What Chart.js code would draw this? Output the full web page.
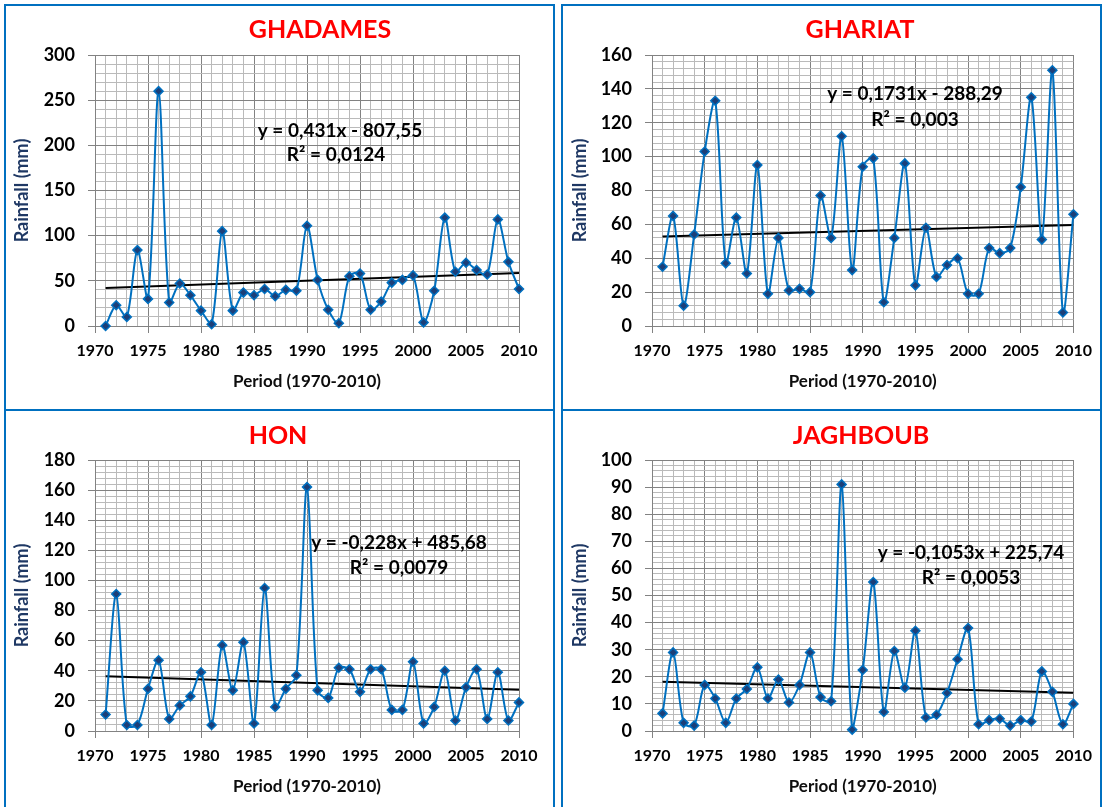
<!DOCTYPE html>
<html>
<head>
<meta charset="utf-8">
<script src="https://cdn.jsdelivr.net/npm/chart.js@4.4.0/dist/chart.umd.min.js"></script>
<style>
html,body{margin:0;padding:0;background:#fff;width:1103px;height:807px;overflow:hidden;}
.panel{position:absolute;border:2px solid #0070c0;box-sizing:border-box;background:#fff;}
.panel canvas{position:absolute;left:0;top:0;}
</style>
</head>
<body>
<div class="panel" style="left:4px;top:4px;width:551px;height:407px;"><canvas id="c0" width="547" height="403"></canvas></div>
<div class="panel" style="left:561px;top:4px;width:541px;height:407px;"><canvas id="c1" width="537" height="403"></canvas></div>
<div class="panel" style="left:4px;top:409px;width:551px;height:420px;"><canvas id="c2" width="547" height="396"></canvas></div>
<div class="panel" style="left:561px;top:409px;width:541px;height:420px;"><canvas id="c3" width="537" height="396"></canvas></div>
<script>
// ---------- DATA ----------
const years = [1971,1972,1973,1974,1975,1976,1977,1978,1979,1980,
               1981,1982,1983,1984,1985,1986,1987,1988,1989,1990,
               1991,1992,1993,1994,1995,1996,1997,1998,1999,2000,
               2001,2002,2003,2004,2005,2006,2007,2008,2009,2010];
const stations = ["GHADAMES", "GHARIAT", "HON", "JAGHBOUB"];
const ghadames = [0,23,10,84,30,260,26,47,34,17,
                  2,105,17,37,34,41,33,40,39,111,
                  51,18,3,55,58,18,27,48,51,56,
                  4,39,120,60,70,62,57,118,71,41];
const ghariat  = [35,65,12,54,103,133,37,64,31,95,
                  19,52,21,22,20,77,52,112,33,94,
                  99,14,52,96,24,58,29,36,40,19,
                  19,46,43,46,82,135,51,151,8,66];
const hon      = [11,91,4,4,28,47,8,17,23,39,
                  4,57,27,59,5,95,16,28,37,162,
                  27,22,42,41,26,41,41,14,14,46,
                  5,16,40,7,29,41,8,39,7,19];
const jaghboub = [6.5,29,3,2,17,12,3,12,15.5,23.5,
                  12,19,10.5,17,29,12.5,11,91,0.5,22.5,
                  55,7,29.5,16,37,5,6,14,26.5,38,
                  2.5,4,4.5,2,4,3.5,22,14.5,2.5,10];
const trendSlopes     = [0.431, 0.1731, -0.228, -0.1053];
const trendIntercepts = [-807.55, -288.29, 485.68, 225.74];
const equationLabels  = ["y = 0,431x - 807,55", "y = 0,1731x - 288,29", "y = -0,228x + 485,68", "y = -0,1053x + 225,74"];
const r2Labels        = ["R² = 0,0124", "R² = 0,003", "R² = 0,0079", "R² = 0,0053"];
const yMaxValues      = [300, 160, 180, 100];
const yMajorSteps     = [50, 20, 20, 10];
const xMin = 1970, xMax = 2010, xMajorStep = 5;
const yAxisLabel = "Rainfall (mm)";
const xAxisLabel = "Period (1970-2010)";
const seriesList = [ghadames, ghariat, hon, jaghboub];

// ---------- LAYOUT (canvas-relative) ----------
const layouts = [
  {padRight:34, xH:83, yTitlePad:5.5, xTitlePad:17, title:[314,24], eq:[334,125], r2:[330,149]},
  {padRight:25, xH:83, yTitlePad:6.5, xTitlePad:17, title:[297,24], eq:[352,88],  r2:[352,114]},
  {padRight:34, xH:76, yTitlePad:5.5, xTitlePad:10, title:[272,25], eq:[393,132], r2:[393,157]},
  {padRight:25, xH:76, yTitlePad:6.5, xTitlePad:10, title:[298,25], eq:[408,142], r2:[408,167]}
];

const MAJOR = '#828282', MINOR = '#bababa';
Chart.defaults.font.family = 'Lato, "Open Sans", sans-serif';

const panelText = {
  id: 'panelText',
  afterDraw(chart, args, o) {
    const ctx = chart.ctx;
    ctx.save();
    ctx.textAlign = 'center';
    ctx.textBaseline = 'middle';
    ctx.fillStyle = '#ff0000';
    ctx.font = 'bold 25px Lato';
    ctx.fillText(o.title, o.titlePos[0], o.titlePos[1]);
    ctx.fillStyle = '#000';
    ctx.font = 'bold 19px Lato';
    ctx.fillText(o.eq, o.eqPos[0], o.eqPos[1]);
    ctx.fillText(o.r2, o.r2Pos[0], o.r2Pos[1]);
    ctx.restore();
  }
};

stations.forEach((name, i) => {
  const L = layouts[i];
  const vals = seriesList[i];
  const major = yMajorSteps[i];
  const first = years[0], last = years[years.length - 1];
  const trend = [
    {x: first, y: trendSlopes[i] * first + trendIntercepts[i]},
    {x: last,  y: trendSlopes[i] * last  + trendIntercepts[i]}
  ];
  new Chart(document.getElementById('c' + i), {
    type: 'line',
    data: {
      datasets: [
        {
          label: name,
          data: years.map((y, k) => ({x: y, y: vals[k]})),
          borderColor: '#0070c0',
          borderWidth: 2,
          tension: 0.3,
          clip: false,
          pointStyle: 'rectRot',
          pointRadius: 4.5,
          pointBackgroundColor: '#1c3f78',
          pointBorderColor: '#0070c0',
          pointBorderWidth: 1.5
        },
        {
          label: 'Trend',
          data: trend,
          borderColor: '#000',
          borderWidth: 2,
          pointRadius: 0,
          tension: 0
        }
      ]
    },
    options: {
      responsive: false,
      animation: false,
      layout: {padding: {left: 0, right: L.padRight, top: 49, bottom: 0}},
      plugins: {
        legend: {display: false},
        tooltip: {enabled: false},
        panelText: {
          title: name, titlePos: L.title,
          eq: equationLabels[i], eqPos: L.eq,
          r2: r2Labels[i], r2Pos: L.r2
        }
      },
      scales: {
        x: {
          type: 'linear', min: xMin, max: xMax,
          afterFit: s => { s.height = L.xH; },
          ticks: {
            stepSize: 1, autoSkip: false, maxRotation: 0, minRotation: 0, padding: 8,
            color: '#000', font: {size: 16, weight: 'bold'},
            callback: v => (v % xMajorStep === 0 ? String(v) : '')
          },
          grid: {
            color: c => (c.tick && c.tick.value % xMajorStep === 0) ? MAJOR : MINOR,
            tickColor: c => (c.tick && c.tick.value % xMajorStep === 0) ? MAJOR : 'rgba(0,0,0,0)',
            tickLength: 7, lineWidth: 1
          },
          border: {color: MAJOR, width: 1},
          title: {display: true, text: xAxisLabel, color: '#0d0d0d',
                  font: {size: 17, weight: 'bold'}, padding: {top: 0, bottom: L.xTitlePad}}
        },
        y: {
          type: 'linear', min: 0, max: yMaxValues[i],
          afterFit: s => { s.width = 89; },
          ticks: {
            stepSize: major / 5, autoSkip: false, padding: 13,
            color: '#000', font: {size: 18, weight: 'bold'},
            callback: v => (v % major === 0 ? String(v) : '')
          },
          grid: {
            color: c => (c.tick && c.tick.value % major === 0) ? MAJOR : MINOR,
            tickColor: c => (c.tick && c.tick.value % major === 0) ? MAJOR : 'rgba(0,0,0,0)',
            tickLength: 7, lineWidth: 1
          },
          border: {color: MAJOR, width: 1},
          title: {display: true, text: yAxisLabel, color: '#1f3864',
                  font: {size: 18, weight: 'bold'}, padding: {top: L.yTitlePad, bottom: 0}}
        }
      }
    },
    plugins: [panelText]
  });
});
</script>
</body>
</html>
